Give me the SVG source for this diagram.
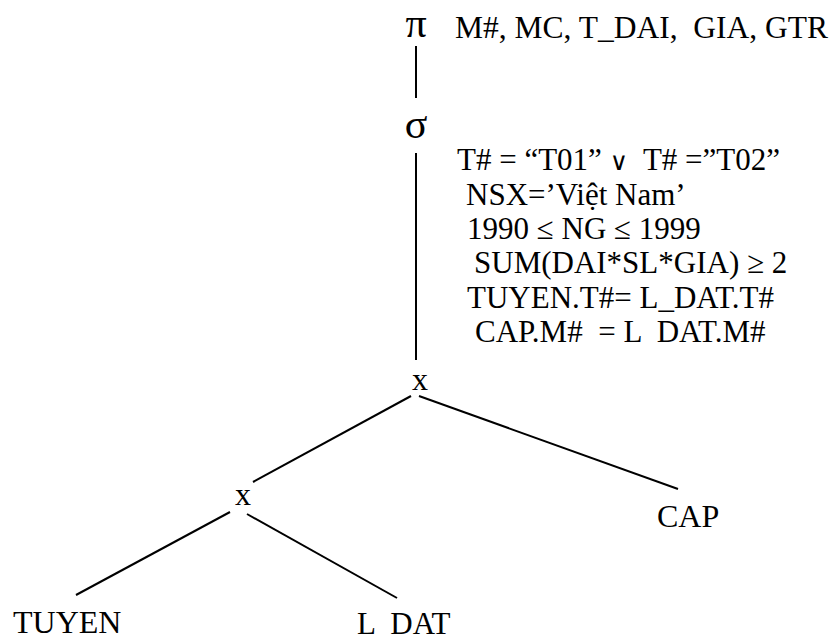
<svg xmlns="http://www.w3.org/2000/svg" width="835" height="641" viewBox="0 0 835 641">
<style>
.t{font-family:"Liberation Serif","Times New Roman",serif;fill:#000;white-space:pre}
.c{font-size:31px}
.n{font-size:32px}
.g{font-size:42px;text-anchor:middle}
.l{stroke:#000;stroke-width:2;fill:none}
.or{font-family:"DejaVu Serif",serif;font-size:25px}
</style>
<rect width="835" height="641" fill="#fff"/>
<g id="connectors">
<line class="l" x1="416" y1="46" x2="416" y2="98"/>
<line class="l" x1="416" y1="153" x2="416" y2="360"/>
<line class="l" x1="411" y1="396" x2="253" y2="482"/>
<line class="l" x1="419" y1="396" x2="678" y2="489"/>
<line class="l" x1="230" y1="512" x2="76" y2="595"/>
<line class="l" x1="247" y1="514" x2="397" y2="598"/>
</g>
<g id="projection">
<text class="t g" x="416" y="37">π</text>
<text class="t" x="455" y="38" font-size="31.5" xml:space="preserve">M#, MC, T_DAI,  GIA, GTR</text>
</g>
<g id="selection">
<text class="t g" x="416" y="138">σ</text>
<text class="t c" x="457" y="170" xml:space="preserve">T# = “T01” <tspan class="or">∨</tspan>  T# =”T02”</text>
<text class="t c" x="466" y="205" xml:space="preserve">NSX=’Việt Nam’</text>
<text class="t c" x="467" y="239" xml:space="preserve">1990 ≤ NG ≤ 1999</text>
<text class="t c" x="474" y="273" xml:space="preserve">SUM(DAI*SL*GIA) ≥ 2</text>
<text class="t c" x="467" y="308" xml:space="preserve">TUYEN.T#= L_DAT.T#</text>
<text class="t c" x="475" y="342" xml:space="preserve">CAP.M#  = L  DAT.M#</text>
</g>
<g id="join1">
<text class="t n" x="420" y="390" text-anchor="middle">x</text>
</g>
<g id="join2">
<text class="t n" x="243" y="505" text-anchor="middle">x</text>
</g>
<g id="cap">
<text class="t n" x="657" y="527">CAP</text>
</g>
<g id="tuyen">
<text class="t n" x="13" y="633">TUYEN</text>
</g>
<g id="ldat">
<text class="t" x="357" y="634" font-size="31" xml:space="preserve">L  DAT</text>
</g>
</svg>
